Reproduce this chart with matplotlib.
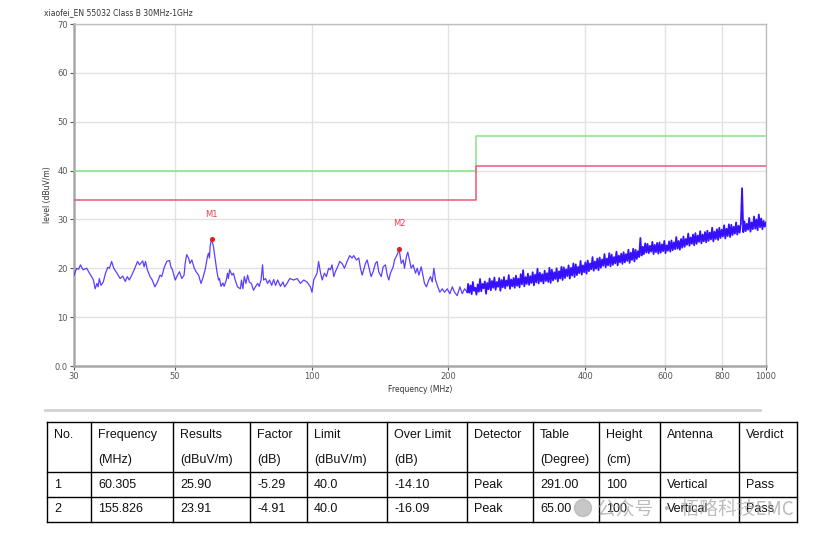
import matplotlib
matplotlib.use("Agg")
import matplotlib.pyplot as plt
import numpy as np
from matplotlib.patches import Circle


TITLE = "xiaofei_EN 55032 Class B 30MHz-1GHz"

# sweep up to ~220 MHz
LOW_FREQ = [
    30.0, 30.4, 30.7, 31.0, 31.4, 32.0, 32.3, 32.8, 33.1, 33.4,
    33.7, 33.9, 34.1, 34.4, 34.8, 35.2, 35.6, 35.9, 36.3, 36.7,
    37.3, 37.9, 38.4, 38.9, 39.3, 39.7, 40.2, 40.7, 41.4, 41.8,
    42.5, 42.8, 43.1, 43.5, 44.1, 44.6, 45.2, 45.8, 46.4, 46.8,
    47.4, 48.0, 48.7, 49.0, 49.4, 50.1, 50.7, 51.2, 51.8, 52.4,
    52.7, 53.1, 53.6, 54.0, 54.5, 55.2, 55.7, 56.4, 57.1, 57.6,
    58.3, 59.0, 59.3, 59.6, 59.8, 60.1, 60.3, 60.8, 61.4, 61.9,
    62.4, 62.7, 63.2, 63.8, 64.2, 64.9, 65.3, 65.6, 66.0, 66.8,
    67.3, 67.9, 68.7, 69.7, 70.1, 70.6, 71.1, 71.7, 72.3, 72.9,
    73.7, 74.5, 75.2, 76.1, 76.7, 77.4, 78.0, 78.4, 79.2, 80.0,
    80.8, 81.7, 82.5, 83.3, 84.2, 85.4, 86.5, 87.2, 88.3, 89.5,
    91.3, 92.9, 94.5, 96.1, 97.7, 99.4, 100.2, 101.1, 102.8, 103.6,
    104.5, 105.5, 106.7, 107.8, 109.0, 110.0, 110.9, 111.9, 112.8, 114.1,
    115.3, 116.7, 118.1, 119.7, 121.3, 122.8, 123.8, 125.5, 127.0, 128.1,
    129.2, 130.2, 131.4, 132.5, 133.6, 135.2, 136.6, 138.2, 139.4, 140.5,
    142.3, 143.7, 145.4, 146.7, 147.9, 149.1, 151.2, 152.2, 154.3, 155.8,
    156.3, 157.5, 159.1, 160.1, 161.7, 162.8, 164.5, 165.6, 167.3, 169.3,
    170.8, 172.2, 174.3, 176.0, 177.2, 179.0, 181.1, 182.7, 184.3, 185.8,
    187.4, 189.6, 191.5, 193.9, 196.1, 198.8, 201.5, 204.0, 206.3, 209.2,
    212.0, 214.6, 217.1, 220.1,
]
LOW_LEVEL = [
    18.6, 20.0, 19.8, 20.7, 19.7, 20.0, 19.3, 18.3, 17.6, 15.8,
    16.9, 16.2, 17.9, 16.5, 17.2, 19.0, 20.2, 20.0, 21.4, 20.0,
    19.0, 17.9, 18.4, 17.3, 18.3, 17.6, 18.6, 19.7, 21.4, 20.7,
    21.5, 20.3, 21.4, 19.7, 18.3, 17.6, 16.2, 17.2, 18.6, 18.3,
    20.2, 21.4, 21.6, 20.3, 19.7, 17.6, 18.6, 19.3, 17.9, 18.6,
    21.0, 22.8, 22.1, 21.0, 21.7, 20.0, 19.3, 18.6, 16.9, 17.9,
    19.7, 22.4, 23.1, 22.1, 24.5, 25.6, 25.9, 24.5, 21.7, 19.3,
    17.6, 17.9, 16.3, 17.0, 16.3, 17.6, 19.0, 17.9, 19.7, 18.6,
    19.0, 17.6, 16.2, 15.8, 17.6, 15.8, 18.3, 16.9, 18.6, 17.2,
    16.9, 15.5, 16.2, 16.9, 16.3, 17.6, 20.7, 17.6, 17.9, 16.9,
    17.6, 16.5, 17.7, 16.5, 17.6, 16.3, 17.2, 16.2, 16.9, 17.9,
    17.6, 17.9, 16.9, 17.6, 17.2, 16.2, 15.1, 17.6, 19.0, 21.4,
    19.3, 17.6, 19.0, 18.3, 20.0, 19.7, 20.7, 18.3, 19.3, 20.3,
    21.4, 21.0, 20.0, 21.4, 22.6, 22.1, 22.6, 21.7, 22.1, 20.0,
    18.6, 19.7, 21.0, 21.7, 20.3, 18.3, 19.3, 21.0, 21.4, 19.3,
    18.3, 20.3, 20.7, 18.6, 17.6, 19.0, 20.3, 21.7, 22.8, 23.9,
    23.0, 21.0, 21.7, 20.0, 22.4, 23.3, 21.4, 20.0, 20.7, 19.0,
    20.0, 18.6, 20.3, 18.3, 16.9, 16.2, 17.6, 18.3, 17.2, 20.0,
    17.6, 16.2, 15.1, 15.8, 15.1, 15.8, 14.8, 16.2, 15.1, 14.4,
    16.2, 14.8, 15.8, 15.1,
]

# 221 MHz - 1 GHz: dense sweep, successive peak / valley readings of the noise band
HIGH_START = 221
HIGH_STOP = 1000
HIGH_LEVEL = [
    16.8, 15.0, 16.5, 14.7, 17.2, 15.4, 16.0, 14.6, 16.7, 15.2,
    17.8, 15.3, 16.8, 15.9, 17.3, 14.8, 17.0, 15.7, 17.9, 15.5,
    17.4, 16.0, 18.1, 15.6, 17.2, 16.2, 18.0, 15.4, 17.6, 16.1,
    18.2, 15.9, 17.5, 16.4, 18.6, 15.8, 17.7, 16.3, 18.0, 16.0,
    18.5, 16.4, 17.9, 16.1, 18.8, 16.7, 19.6, 16.3, 18.2, 16.8,
    18.9, 16.6, 18.4, 17.0, 19.2, 16.5, 18.7, 17.1, 19.9, 16.9,
    19.1, 17.3, 18.8, 16.9, 19.5, 17.4, 19.0, 17.2, 20.1, 17.0,
    19.7, 17.5, 19.2, 17.8, 20.0, 17.3, 19.4, 17.9, 20.3, 17.6,
    20.2, 18.0, 19.8, 18.4, 20.6, 17.9, 20.1, 18.5, 21.0, 18.2,
    20.8, 18.6, 20.3, 19.0, 21.5, 18.7, 20.6, 19.2, 21.2, 18.9,
    21.6, 19.4, 21.0, 19.8, 22.3, 19.5, 21.4, 19.9, 22.0, 19.6,
    22.2, 20.1, 21.8, 20.5, 22.9, 20.2, 22.0, 20.6, 23.1, 20.4,
    22.8, 20.7, 22.3, 21.0, 23.4, 20.6, 22.6, 21.2, 23.0, 20.9,
    23.3, 21.2, 22.9, 21.5, 23.8, 21.1, 23.2, 21.7, 24.0, 21.4,
    23.8, 21.9, 23.5, 22.3, 26.2, 22.6, 24.4, 22.9, 25.1, 23.2,
    25.0, 23.1, 24.6, 23.4, 25.4, 22.9, 24.8, 23.3, 25.2, 23.0,
    25.3, 23.2, 24.9, 23.5, 25.6, 23.1, 24.7, 23.6, 25.5, 23.4,
    25.7, 23.7, 25.3, 23.9, 26.4, 24.0, 25.6, 23.8, 26.0, 24.2,
    26.5, 24.4, 26.0, 24.8, 27.1, 24.6, 26.3, 25.0, 26.9, 24.7,
    27.2, 25.0, 26.7, 25.4, 27.6, 25.1, 26.9, 25.5, 27.4, 25.3,
    27.7, 25.6, 27.3, 25.9, 28.3, 25.5, 27.5, 26.0, 28.0, 25.8,
    28.3, 26.2, 27.9, 26.5, 28.8, 26.1, 28.1, 26.6, 29.0, 26.4,
    28.9, 26.8, 28.5, 27.1, 29.4, 26.9, 28.7, 27.3, 29.2, 36.4,
    27.4, 29.6, 27.6, 29.1, 27.9, 30.3, 27.5, 29.4, 28.0, 30.6,
    28.1, 30.0, 27.8, 31.0, 28.4, 30.2, 28.0, 29.7, 28.5, 29.4,
]

# limit lines, step at 230 MHz
LIMIT_FREQ = [30, 230, 230, 1000]
LIMIT_UPPER = [40, 40, 47, 47]
LIMIT_LOWER = [34, 34, 41, 41]

MARK_NAME = ["M1", "M2"]
MARK_FREQ = [60.305, 155.826]
MARK_LEVEL = [25.90, 23.91]

X_TICKS = [30, 50, 100, 200, 400, 600, 800, 1000]
Y_TICKS = [0, 10, 20, 30, 40, 50, 60, 70]
Y_TICK_LABELS = ["0.0", "10", "20", "30", "40", "50", "60", "70"]

HEADER_TOP = ["No.", "Frequency", "Results", "Factor", "Limit", "Over Limit",
              "Detector", "Table", "Height", "Antenna", "Verdict"]
HEADER_BOTTOM = ["", "(MHz)", "(dBuV/m)", "(dB)", "(dBuV/m)", "(dB)",
                 "", "(Degree)", "(cm)", "", ""]
ROWS = [
    ["1", "60.305", "25.90", "-5.29", "40.0", "-14.10", "Peak", "291.00", "100", "Vertical", "Pass"],
    ["2", "155.826", "23.91", "-4.91", "40.0", "-16.09", "Peak", "65.00", "100", "Vertical", "Pass"],
]

WATERMARK = "公众号 · 栢略科技EMC"

TRACE = "#3510ff"
GREEN = "#86e486"
RED = "#e8587a"
GRID = "#e2e2e2"
TICK = "#555555"

W, H = 830, 543
fig = plt.figure(figsize=(W / 100, H / 100), dpi=100)

# ---- spectrum plot ----
ax = fig.add_axes([74 / W, 1 - 366 / H, 692 / W, 342 / H])
ax.set_xscale("log")
ax.set_xlim(30, 1000)
ax.set_ylim(0, 70)

ax.plot(LIMIT_FREQ, LIMIT_UPPER, color=GREEN, lw=1.1, zorder=3)
ax.plot(LIMIT_FREQ, LIMIT_LOWER, color=RED, lw=1.1, zorder=3)

ax.plot(LOW_FREQ, LOW_LEVEL, color=TRACE, lw=0.9, alpha=0.8, zorder=4)
high_freq = np.geomspace(HIGH_START, HIGH_STOP, len(HIGH_LEVEL))
ax.plot(np.concatenate([LOW_FREQ[-1:], high_freq]),
        np.concatenate([LOW_LEVEL[-1:], HIGH_LEVEL]),
        color=TRACE, lw=1.3, zorder=4)

ax.scatter(MARK_FREQ, MARK_LEVEL, s=7, color="#e02020", zorder=5)
for name, f, lv in zip(MARK_NAME, MARK_FREQ, MARK_LEVEL):
    ax.annotate(name, (f, lv), xytext=(0, 15), textcoords="offset points",
                ha="center", va="bottom", fontsize=6, color="#e84050")

ax.set_xticks(X_TICKS)
ax.set_xticklabels([str(t) for t in X_TICKS])
ax.xaxis.set_minor_locator(plt.NullLocator())
ax.set_yticks(Y_TICKS)
ax.set_yticklabels(Y_TICK_LABELS)
ax.tick_params(labelsize=6, colors=TICK, length=3, width=0.8, pad=1.5)
ax.grid(True, color=GRID, lw=1)
ax.set_axisbelow(True)

for side in ["left", "bottom"]:
    ax.spines[side].set_color("#a8a8a8")
    ax.spines[side].set_linewidth(1.8)
for side in ["top", "right"]:
    ax.spines[side].set_color("#bdbdbd")
    ax.spines[side].set_linewidth(1.0)

ax.set_xlabel("Frequency (MHz)", fontsize=5.5, color="#333333", labelpad=3)
ax.set_ylabel("level (dBuV/m)", fontsize=5.5, color="#333333", labelpad=2)
fig.text(44 / W, 1 - 13 / H, TITLE, fontsize=5.5, color="#333333", va="center")

# ---- result table ----
tab = fig.add_axes([0, 0, 1, 1], zorder=-1)
tab.set_xlim(0, W)
tab.set_ylim(H, 0)
tab.axis("off")

tab.plot([45, 760], [410, 410], color="#d2d2d2", lw=2)

col_x = [47, 91, 173, 250, 307, 387, 467, 533, 599, 660, 739, 797]
row_y = [422, 472, 497, 522]
for x in col_x:
    tab.plot([x, x], [row_y[0], row_y[-1]], color="black", lw=1)
for y in row_y:
    tab.plot([col_x[0], col_x[-1]], [y, y], color="black", lw=1)

tfont = dict(fontsize=9, family="Liberation Sans", color="#111111", va="center")
for i in range(len(HEADER_TOP)):
    tab.text(col_x[i] + 7, 435, HEADER_TOP[i], **tfont)
    tab.text(col_x[i] + 7, 460, HEADER_BOTTOM[i], **tfont)
for r, row in enumerate(ROWS):
    yc = (row_y[r + 1] + row_y[r + 2]) / 2
    for i, val in enumerate(row):
        tab.text(col_x[i] + 7, yc, val, **tfont)

# wechat watermark over the last row, as in the source screenshot
tab.add_patch(Circle((583, 508), 8.5, color="#b0b0b0", alpha=0.7, zorder=5))
tab.text(597, 509, WATERMARK, fontsize=13.5, color="#a0a0a0", alpha=0.7,
         va="center", family=["Noto Sans CJK SC", "DejaVu Sans"], zorder=5)

fig.savefig("out.png", dpi=100)
